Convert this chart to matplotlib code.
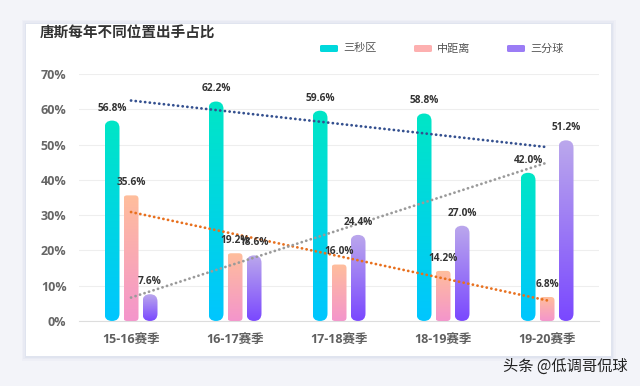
import matplotlib
matplotlib.use("Agg")
import matplotlib.pyplot as plt
import numpy as np
from matplotlib.patches import FancyBboxPatch, Rectangle
from matplotlib.colors import LinearSegmentedColormap

plt.rcParams['font.family'] = ['Noto Sans CJK SC', 'DejaVu Sans']
num_font = ['Open Sans', 'Noto Sans CJK SC']

seasons = ['15-16赛季', '16-17赛季', '17-18赛季', '18-19赛季', '19-20赛季']
series_names = ['三秒区', '中距离', '三分球']
paint = [56.8, 62.2, 59.6, 58.8, 42.0]
midrange = [35.6, 19.2, 16.0, 14.2, 6.8]
three = [7.6, 18.6, 24.4, 27.0, 51.2]
yticks = [0, 10, 20, 30, 40, 50, 60, 70]

series = [paint, midrange, three]
# gradient colours: (top, bottom)
grads = [('#00e6c6', '#00c6ff'), ('#ffbe9c', '#f495cc'), ('#bba8ec', '#7a48ff')]
trend_colors = ['#34508f', '#e8701e', '#9a9a9a']
radius_px = [7.5, 3.5, 7.5]

W, H = 640, 386
fig = plt.figure(figsize=(W / 100, H / 100), dpi=100)
fig.patch.set_facecolor('#f3f4f9')

# white card with soft shadow
for i, a in enumerate([0.05, 0.04, 0.03]):
    d = (i + 1) * 1.5
    fig.patches.append(Rectangle(((26 - d) / W, 1 - (356 + d) / H), (585 + 2 * d) / W, (332 + 2 * d) / H,
                                 transform=fig.transFigure, facecolor='#6070b0', alpha=a,
                                 edgecolor='none', zorder=-3))
fig.patches.append(Rectangle((26 / W, 1 - 356 / H), 585 / W, 332 / H, transform=fig.transFigure,
                             facecolor='white', edgecolor='none', zorder=-2))

ax = fig.add_axes([79 / W, 1 - 321 / H, 520 / W, 247 / H])
ax.set_zorder(2)
ax.set_facecolor('none')
ax.set_xlim(-0.5, len(seasons) - 0.5)
ax.set_ylim(0, 70)

# data units per pixel, for rounding bar corners
px_x = 5 / 520
px_y = 70 / 247
aspect = px_y / px_x

bw = 15 * px_x
offs = [-19 * px_x, 0, 19 * px_x]
x = np.arange(len(seasons))

for si, vals in enumerate(series):
    cmap = LinearSegmentedColormap.from_list('g%d' % si, [grads[si][1], grads[si][0]])
    grad = np.linspace(0, 1, 256).reshape(-1, 1)
    for xi, v in zip(x, vals):
        x0 = xi + offs[si] - bw / 2
        patch = FancyBboxPatch((x0, 0), bw, v,
                               boxstyle='round,pad=0,rounding_size=%f' % (radius_px[si] * px_x),
                               mutation_aspect=aspect, facecolor='none', edgecolor='none')
        ax.add_patch(patch)
        im = ax.imshow(grad, cmap=cmap, origin='lower', extent=[x0, x0 + bw, 0, v],
                       aspect='auto', zorder=2)
        im.set_clip_path(patch)
        ax.text(xi + offs[si], v + 2.0, '%.1f%%' % v, ha='center', va='bottom',
                fontsize=7.3, fontweight='bold', color='#333333', zorder=5, family=num_font)

# linear trend lines
for si, vals in enumerate(series):
    k, b = np.polyfit(x, vals, 1)
    ax.plot(x, k * x + b, color=trend_colors[si], lw=2.0, linestyle=(0, (0.05, 1.65)),
            dash_capstyle='round', zorder=4)

ax.set_xlim(-0.5, len(seasons) - 0.5)
ax.set_ylim(0, 70)
ax.set_yticks(yticks)
ax.set_yticklabels(['%d%%' % t for t in yticks])
ax.set_xticks(x)
ax.set_xticklabels(seasons)
ax.grid(axis='y', color='#eeeeee', lw=0.8, zorder=0)
ax.set_axisbelow(True)
for s in ['top', 'right', 'left']:
    ax.spines[s].set_visible(False)
ax.spines['bottom'].set_color('#dddddd')
ax.tick_params(axis='y', length=0, pad=9, labelsize=9, labelcolor='#666666')
ax.tick_params(axis='x', length=0, pad=9, labelsize=9, labelcolor='#5f5f5f')
for lab in ax.get_xticklabels() + ax.get_yticklabels():
    lab.set_fontweight('bold')
    lab.set_family(num_font)

fig.text(40 / W, 1 - 33 / H, '唐斯每年不同位置出手占比', fontsize=10.5, fontweight='bold',
         color='#333333', va='center', ha='left')

# legend
leg_x = [320, 414, 507]
for i, name in enumerate(series_names):
    fig.patches.append(FancyBboxPatch((leg_x[i] / W, 1 - 52 / H), 18 / W, 7 / H,
                                      boxstyle='round,pad=0,rounding_size=0.003',
                                      transform=fig.transFigure,
                                      facecolor=['#00d8dc', '#fdb0b0', '#9b7cf5'][i],
                                      edgecolor='none', zorder=3))
    fig.text((leg_x[i] + 23) / W, 1 - 48.5 / H, name, fontsize=8, color='#555555',
             va='center', ha='left')

fig.text(628 / W, 1 - 366 / H, '头条 @低调哥侃球', fontsize=11, color='#222222',
         va='center', ha='right')

fig.savefig('out.png', dpi=100, facecolor=fig.get_facecolor())
